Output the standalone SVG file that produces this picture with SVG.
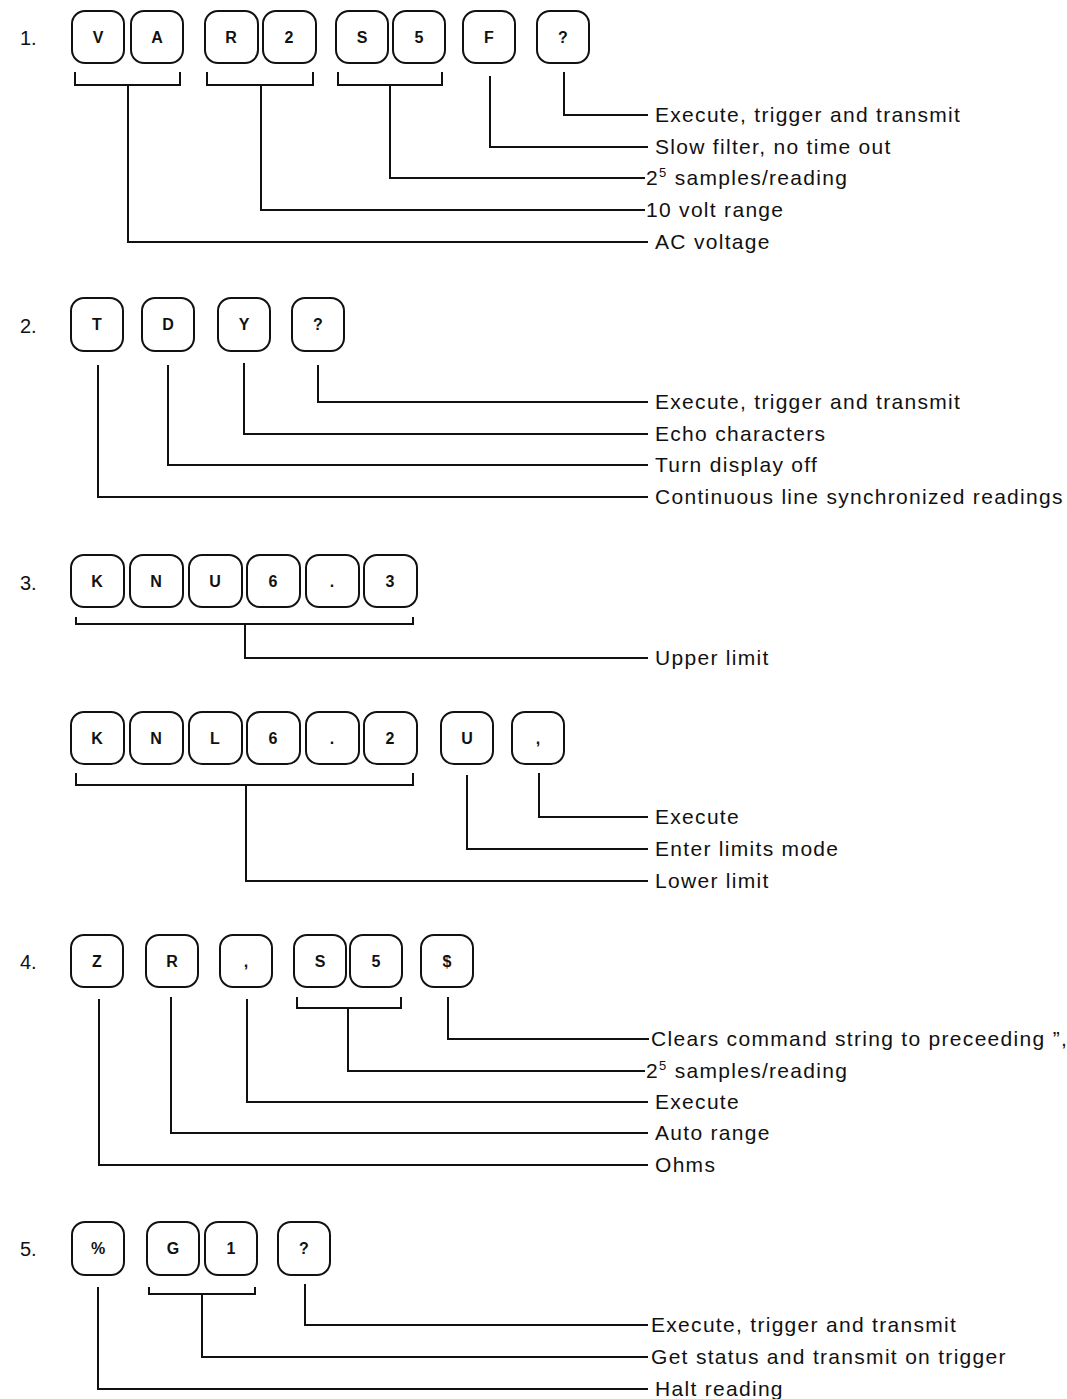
<svg xmlns="http://www.w3.org/2000/svg" width="1067" height="1399" viewBox="0 0 1067 1399">
<style>
.k rect{fill:#fff;stroke:#111;stroke-width:2}
.k text{font-family:"Liberation Sans",Arial,sans-serif;font-size:16px;font-weight:bold;fill:#111;text-anchor:middle}
.num{font-family:"Liberation Sans",Arial,sans-serif;font-size:20px;fill:#111}
.lbl{font-family:"Liberation Sans",Arial,sans-serif;font-size:21px;letter-spacing:1.3px;fill:#111}
.sup{font-size:13px}
#connectors path{fill:none;stroke:#111;stroke-width:2}
</style>
<rect width="1067" height="1399" fill="#fff"/>

<!-- section numbers -->
<text class="num" x="20" y="45">1.</text>
<text class="num" x="20" y="333">2.</text>
<text class="num" x="20" y="590">3.</text>
<text class="num" x="20" y="969">4.</text>
<text class="num" x="20" y="1256">5.</text>

<!-- Row 1 keys -->
<g id="k1-V" class="k"><rect x="72" y="11" width="52" height="52" rx="13"/><text x="98" y="43">V</text></g>
<g id="k1-A" class="k"><rect x="131" y="11" width="52" height="52" rx="13"/><text x="157" y="43">A</text></g>
<g id="k1-R" class="k"><rect x="205" y="11" width="53" height="52" rx="13"/><text x="231" y="43">R</text></g>
<g id="k1-2" class="k"><rect x="263" y="11" width="53" height="52" rx="13"/><text x="289" y="43">2</text></g>
<g id="k1-S" class="k"><rect x="336" y="11" width="52" height="52" rx="13"/><text x="362" y="43">S</text></g>
<g id="k1-5" class="k"><rect x="393" y="11" width="52" height="52" rx="13"/><text x="419" y="43">5</text></g>
<g id="k1-F" class="k"><rect x="463" y="11" width="52" height="52" rx="13"/><text x="489" y="43">F</text></g>
<g id="k1-Q" class="k"><rect x="537" y="11" width="52" height="52" rx="13"/><text x="563" y="43">?</text></g>

<!-- Row 2 keys -->
<g id="k2-T" class="k"><rect x="71" y="298" width="52" height="53" rx="13"/><text x="97" y="330">T</text></g>
<g id="k2-D" class="k"><rect x="142" y="298" width="52" height="53" rx="13"/><text x="168" y="330">D</text></g>
<g id="k2-Y" class="k"><rect x="218" y="298" width="52" height="53" rx="13"/><text x="244" y="330">Y</text></g>
<g id="k2-Q" class="k"><rect x="292" y="298" width="52" height="53" rx="13"/><text x="318" y="330">?</text></g>

<!-- Row 3a keys -->
<g id="k3a-K" class="k"><rect x="71" y="555" width="53" height="52" rx="13"/><text x="97" y="587">K</text></g>
<g id="k3a-N" class="k"><rect x="130" y="555" width="53" height="52" rx="13"/><text x="156" y="587">N</text></g>
<g id="k3a-U" class="k"><rect x="189" y="555" width="53" height="52" rx="13"/><text x="215" y="587">U</text></g>
<g id="k3a-6" class="k"><rect x="247" y="555" width="53" height="52" rx="13"/><text x="273" y="587">6</text></g>
<g id="k3a-dot" class="k"><rect x="306" y="555" width="53" height="52" rx="13"/><text x="332" y="587">.</text></g>
<g id="k3a-3" class="k"><rect x="364" y="555" width="53" height="52" rx="13"/><text x="390" y="587">3</text></g>

<!-- Row 3b keys -->
<g id="k3b-K" class="k"><rect x="71" y="712" width="53" height="52" rx="13"/><text x="97" y="744">K</text></g>
<g id="k3b-N" class="k"><rect x="130" y="712" width="53" height="52" rx="13"/><text x="156" y="744">N</text></g>
<g id="k3b-L" class="k"><rect x="189" y="712" width="53" height="52" rx="13"/><text x="215" y="744">L</text></g>
<g id="k3b-6" class="k"><rect x="247" y="712" width="53" height="52" rx="13"/><text x="273" y="744">6</text></g>
<g id="k3b-dot" class="k"><rect x="306" y="712" width="53" height="52" rx="13"/><text x="332" y="744">.</text></g>
<g id="k3b-2" class="k"><rect x="364" y="712" width="53" height="52" rx="13"/><text x="390" y="744">2</text></g>
<g id="k3b-U" class="k"><rect x="441" y="712" width="52" height="52" rx="13"/><text x="467" y="744">U</text></g>
<g id="k3b-comma" class="k"><rect x="512" y="712" width="52" height="52" rx="13"/><text x="538" y="744">,</text></g>

<!-- Row 4 keys -->
<g id="k4-Z" class="k"><rect x="71" y="935" width="52" height="52" rx="13"/><text x="97" y="967">Z</text></g>
<g id="k4-R" class="k"><rect x="146" y="935" width="52" height="52" rx="13"/><text x="172" y="967">R</text></g>
<g id="k4-comma" class="k"><rect x="220" y="935" width="52" height="52" rx="13"/><text x="246" y="967">,</text></g>
<g id="k4-S" class="k"><rect x="294" y="935" width="52" height="52" rx="13"/><text x="320" y="967">S</text></g>
<g id="k4-5" class="k"><rect x="350" y="935" width="52" height="52" rx="13"/><text x="376" y="967">5</text></g>
<g id="k4-dollar" class="k"><rect x="421" y="935" width="52" height="52" rx="13"/><text x="447" y="967">$</text></g>

<!-- Row 5 keys -->
<g id="k5-pct" class="k"><rect x="72" y="1222" width="52" height="53" rx="13"/><text x="98" y="1254">%</text></g>
<g id="k5-G" class="k"><rect x="147" y="1222" width="52" height="53" rx="13"/><text x="173" y="1254">G</text></g>
<g id="k5-1" class="k"><rect x="205" y="1222" width="52" height="53" rx="13"/><text x="231" y="1254">1</text></g>
<g id="k5-Q" class="k"><rect x="278" y="1222" width="52" height="53" rx="13"/><text x="304" y="1254">?</text></g>

<g id="connectors">
<!-- row 1 -->
<path d="M75,72 V85 H180 V72"/>
<path d="M128,85 V242 H648"/>
<path d="M207,72 V85 H313 V72"/>
<path d="M261,85 V210 H645"/>
<path d="M338,72 V85 H442 V72"/>
<path d="M390,85 V178 H645"/>
<path d="M490,76 V147 H648"/>
<path d="M564,72 V115 H648"/>
<!-- row 2 -->
<path d="M318,365 V402 H648"/>
<path d="M244,363 V434 H648"/>
<path d="M168,365 V465 H648"/>
<path d="M98,365 V497 H648"/>
<!-- row 3 -->
<path d="M76,617 V624 H413 V617"/>
<path d="M245,624 V658 H648"/>
<path d="M76,773 V785 H413 V773"/>
<path d="M246,785 V881 H648"/>
<path d="M467,775 V849 H648"/>
<path d="M539,773 V817 H648"/>
<!-- row 4 -->
<path d="M448,997 V1039 H649"/>
<path d="M297,997 V1008 H401 V997"/>
<path d="M348,1008 V1071 H645"/>
<path d="M247,999 V1102 H648"/>
<path d="M171,997 V1133 H648"/>
<path d="M99,999 V1165 H648"/>
<!-- row 5 -->
<path d="M305,1284 V1325 H648"/>
<path d="M149,1287 V1294 H255 V1287"/>
<path d="M202,1294 V1357 H648"/>
<path d="M98,1287 V1389 H648"/>
</g>

<g id="labels">
<text class="lbl" x="655" y="122">Execute, trigger and transmit</text>
<text class="lbl" x="655" y="154">Slow filter, no time out</text>
<text class="lbl" x="646" y="185">2<tspan class="sup" dy="-8">5</tspan><tspan dy="8">  samples/reading</tspan></text>
<text class="lbl" x="646" y="217">10 volt range</text>
<text class="lbl" x="655" y="249">AC voltage</text>

<text class="lbl" x="655" y="409">Execute, trigger and transmit</text>
<text class="lbl" x="655" y="441">Echo characters</text>
<text class="lbl" x="655" y="472">Turn display off</text>
<text class="lbl" x="655" y="504">Continuous line synchronized readings</text>

<text class="lbl" x="655" y="665">Upper limit</text>
<text class="lbl" x="655" y="824">Execute</text>
<text class="lbl" x="655" y="856">Enter limits mode</text>
<text class="lbl" x="655" y="888">Lower limit</text>

<text class="lbl" x="651" y="1046">Clears command string to preceeding ”,</text>
<text class="lbl" x="646" y="1078">2<tspan class="sup" dy="-8">5</tspan><tspan dy="8">  samples/reading</tspan></text>
<text class="lbl" x="655" y="1109">Execute</text>
<text class="lbl" x="655" y="1140">Auto range</text>
<text class="lbl" x="655" y="1172">Ohms</text>

<text class="lbl" x="651" y="1332">Execute, trigger and transmit</text>
<text class="lbl" x="651" y="1364">Get status and transmit on trigger</text>
<text class="lbl" x="655" y="1396">Halt reading</text>
</g>
</svg>
